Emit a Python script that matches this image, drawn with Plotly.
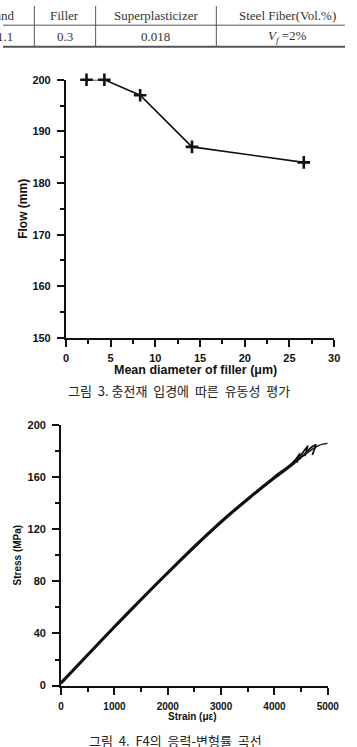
import plotly.graph_objects as go

W, H = 357, 747

def px(x):
    return x / W

def py(y):
    return 1 - y / H

# ---------------- data ----------------
# table fragment
table_header = ["Sand", "Filler", "Superplasticizer", "Steel Fiber(Vol.%)"]
table_values = ["1.1", "0.3", "0.018", "<i>V</i><sub><i>f</i></sub> =2%"]

# figure 3: flow vs mean diameter of filler
filler_diameter = [2.3, 4.3, 8.3, 14.1, 26.6]
flow_mm = [200, 200, 197, 187, 184]

# figure 4: stress-strain curves of F4 specimens
strain_a = [0, 500, 1000, 1500, 2000, 2500, 3000, 3500, 4000, 4250, 4400, 4478, 4420]
stress_a = [2, 23.5, 45, 66, 86.5, 106.5, 125.5, 143, 159.5, 167, 173.5, 178, 171]
strain_b = [0, 500, 1000, 1500, 2000, 2500, 3000, 3500, 4000, 4300, 4500, 4628, 4570]
stress_b = [2.8, 24.3, 45.8, 66.8, 87.3, 107.3, 126.3, 143.8, 160.3, 169.5, 177, 184, 176]
strain_c = [0, 500, 1000, 1500, 2000, 2500, 3000, 3500, 4000, 4300, 4550, 4700, 4778, 4710]
stress_c = [1.4, 22.9, 44.4, 65.4, 85.9, 105.9, 124.9, 142.4, 158.9, 168, 177, 183, 184.7, 177]
strain_d = [0, 500, 1000, 1500, 2000, 2500, 3000, 3500, 4000, 4350, 4600, 4800, 4900, 5000]
stress_d = [2.4, 23.9, 45.4, 66.4, 86.9, 106.9, 125.9, 143.4, 159.9, 170, 178, 183.5, 185.2, 185.8]

ink = "#111111"
font_lbl = "Liberation Sans, Arial, sans-serif"

fig = go.Figure()

fig.add_trace(go.Scatter(
    x=filler_diameter, y=flow_mm, mode="lines+markers",
    line=dict(color=ink, width=1.6),
    marker=dict(symbol="cross-thin", size=9, line=dict(color=ink, width=2.6)),
    xaxis="x", yaxis="y", showlegend=False, cliponaxis=False,
))

widths = [1.8, 1.8, 1.8, 1.4]
for (sx, sy), lw in zip([(strain_a, stress_a), (strain_b, stress_b), (strain_c, stress_c), (strain_d, stress_d)], widths):
    fig.add_trace(go.Scatter(
        x=sx, y=sy, mode="lines",
        line=dict(color=ink, width=lw, shape="spline", smoothing=0.5),
        xaxis="x2", yaxis="y2", showlegend=False, cliponaxis=False,
    ))

axis_common = dict(
    showgrid=False, zeroline=False, showline=True, linecolor=ink, linewidth=2,
    ticks="outside", ticklen=7, tickwidth=2, tickcolor=ink, mirror=False,
)

tickfont_big = dict(family=font_lbl, size=11, color=ink, weight=700)
tickfont_small = dict(family=font_lbl, size=10, color=ink, weight=700)

fig.update_layout(
    width=W, height=H, margin=dict(l=0, r=0, t=0, b=0),
    paper_bgcolor="white", plot_bgcolor="white",
    xaxis=dict(
        **axis_common, domain=[px(65.7), px(345.7)], range=[0, 30],
        tickmode="linear", tick0=0, dtick=5, anchor="y",
        tickfont=tickfont_big,
        minor=dict(dtick=2.5, ticks="outside", ticklen=4, tickwidth=2, tickcolor=ink),
        ticklabelstandoff=2,
    ),
    yaxis=dict(
        **axis_common, domain=[py(337.3), py(75)], range=[150, 200],
        tickmode="linear", tick0=150, dtick=10, anchor="x",
        tickfont=tickfont_big,
        minor=dict(dtick=5, ticks="outside", ticklen=4, tickwidth=2, tickcolor=ink),
        ticklabelstandoff=4,
    ),
    xaxis2=dict(
        **axis_common, domain=[px(60.7), px(339)], range=[0, 5000],
        tickmode="linear", tick0=0, dtick=1000, anchor="y2",
        tickfont=tickfont_small,
        minor=dict(dtick=500, ticks="outside", ticklen=4, tickwidth=2, tickcolor=ink),
        ticklabelstandoff=3,
    ),
    yaxis2=dict(
        **axis_common, domain=[py(690.7), py(425.7)], range=[0, 200],
        tickmode="linear", tick0=0, dtick=40, anchor="x2",
        tickfont=dict(family=font_lbl, size=11, color=ink, weight=700),
        minor=dict(dtick=20, ticks="outside", ticklen=4, tickwidth=2, tickcolor=ink),
        ticklabelstandoff=4,
    ),
)

# ---------- table fragment ----------
tbl_line = "#555555"
shapes = []
for xv in [32.7, 96.7, 222.7]:
    shapes.append(dict(type="line", xref="paper", yref="paper",
                       x0=px(xv), x1=px(xv), y0=py(0), y1=py(41),
                       line=dict(color=tbl_line, width=1)))
shapes.append(dict(type="line", xref="paper", yref="paper",
                   x0=0, x1=1, y0=py(19.5), y1=py(19.5),
                   line=dict(color=tbl_line, width=1)))
shapes.append(dict(type="line", xref="paper", yref="paper",
                   x0=0, x1=1, y0=py(41.5), y1=py(41.5),
                   line=dict(color=tbl_line, width=2)))
fig.update_layout(shapes=shapes)

serif = "Liberation Serif, Times New Roman, serif"
col_centers = [None, 64.7, 159.7, 297]
ann = []
for i, (hd, vl) in enumerate(zip(table_header, table_values)):
    if i == 0:
        ann.append(dict(text=hd, x=px(15), xanchor="right", y=py(9.5), yanchor="middle"))
        ann.append(dict(text=vl, x=px(12.5), xanchor="right", y=py(30.5), yanchor="middle"))
    else:
        ann.append(dict(text=hd, x=px(col_centers[i]), xanchor="center", y=py(9.5), yanchor="middle"))
        ann.append(dict(text=vl, x=px(col_centers[i]), xanchor="center", y=py(30.5), yanchor="middle"))
for a in ann:
    a.update(xref="paper", yref="paper", showarrow=False,
             font=dict(family=serif, size=13, color="#333333"))

# axis titles and captions
ann += [
    dict(text="<b>Mean diameter of filler (\u03bcm)</b>", x=px(201), y=py(370), xanchor="center", yanchor="middle",
         font=dict(family=font_lbl, size=12.5, color=ink)),
    dict(text="<b>Flow (mm)</b>", x=px(21), y=py(206), xanchor="center", yanchor="middle", textangle=-90,
         font=dict(family=font_lbl, size=12, color=ink)),
    dict(text="그림  3. 충전재  입경에  따른  유동성  평가", x=px(184), y=py(391), xanchor="center", yanchor="middle",
         font=dict(family="Noto Sans CJK KR", size=13, color="#222222")),
    dict(text="<b>Strain (\u03bc\u03b5)</b>", x=px(198), y=py(722), xanchor="center", yanchor="middle",
         font=dict(family=font_lbl, size=10, color=ink)),
    dict(text="<b>Stress (MPa)</b>", x=px(15), y=py(558), xanchor="center", yanchor="middle", textangle=-90,
         font=dict(family=font_lbl, size=10, color=ink)),
    dict(text="그림  4.  F4의  응력-변형률  곡선", x=px(180), y=py(746.5), xanchor="center", yanchor="middle",
         font=dict(family="Noto Sans CJK KR", size=13, color="#222222")),
]
for a in ann:
    a.setdefault("xref", "paper")
    a.setdefault("yref", "paper")
    a.setdefault("showarrow", False)
fig.update_layout(annotations=ann)

fig.write_html("out.html")
